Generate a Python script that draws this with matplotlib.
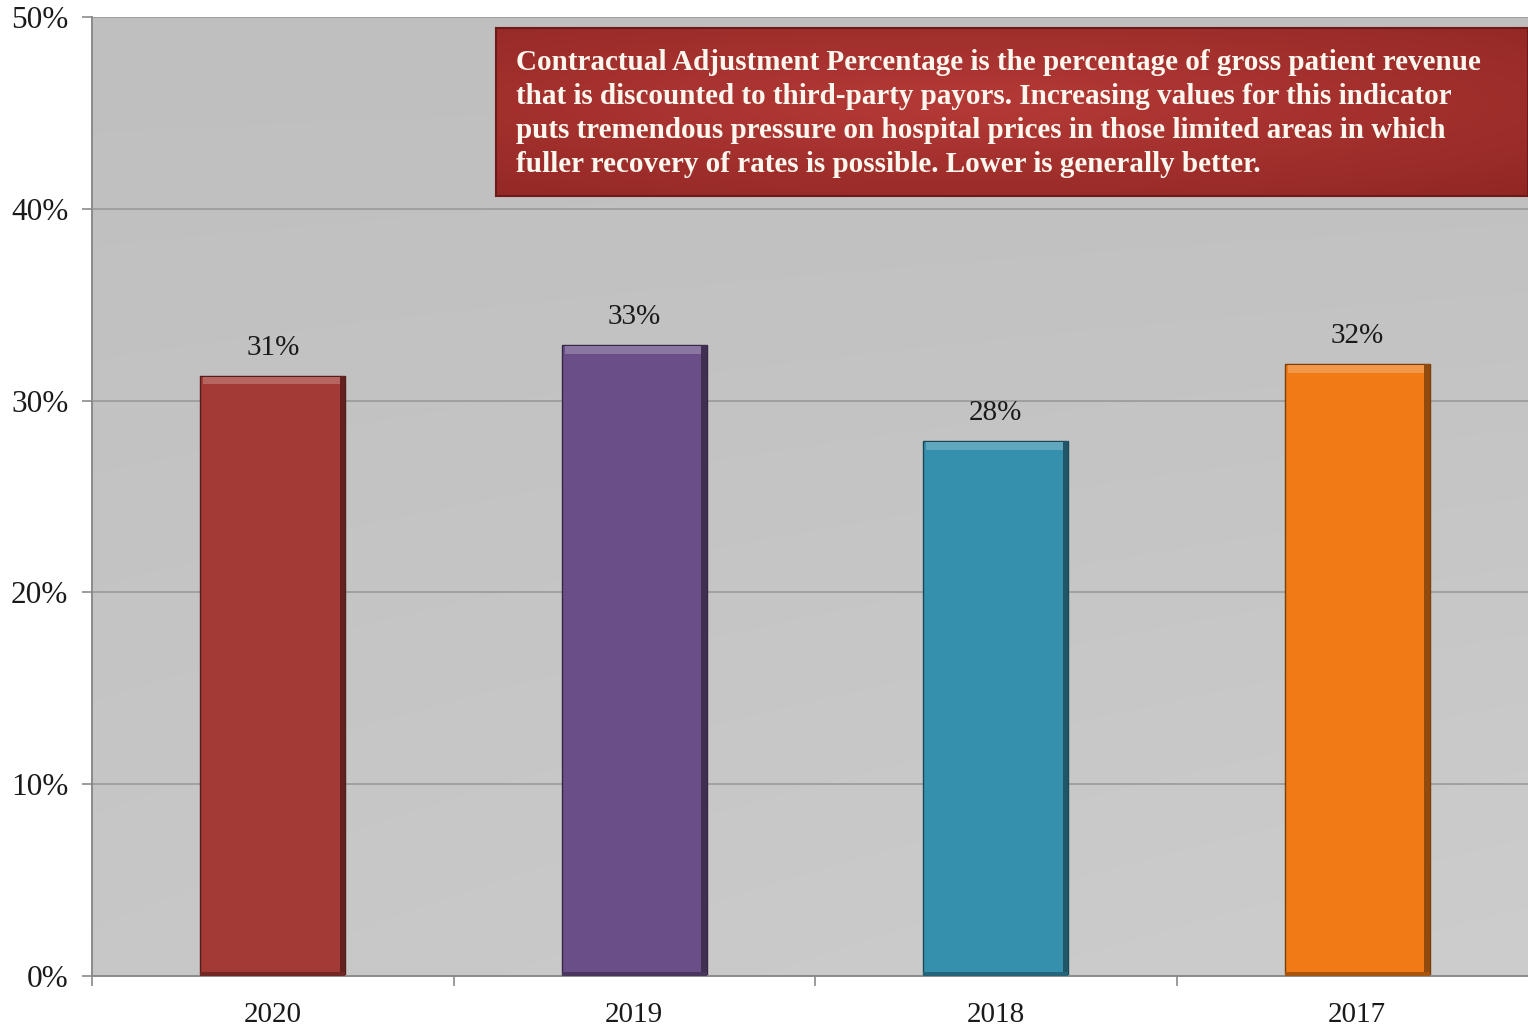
import numpy as np
import matplotlib
matplotlib.use("Agg")
import matplotlib.pyplot as plt
from matplotlib.colors import to_rgb

# Contractual adjustment percentage by fiscal year
years = ["2020", "2019", "2018", "2017"]
values = [31.3, 32.9, 27.9, 31.9]
bar_colors = ["#a33a35", "#6a4e87", "#3590ad", "#f07b16"]
y_ticks = [0, 10, 20, 30, 40, 50]
note = ("Contractual Adjustment Percentage is the percentage of gross patient revenue\n"
        "that is discounted to third-party payors. Increasing values for this indicator\n"
        "puts tremendous pressure on hospital prices in those limited areas in which\n"
        "fuller recovery of rates is possible. Lower is generally better.")

plt.rcParams["font.family"] = ["Liberation Serif", "DejaVu Serif"]

W, H = 1528, 1027
fig = plt.figure(figsize=(W / 100, H / 100), dpi=100)
fig.patch.set_facecolor("white")

ax = fig.add_axes([92 / W, 1 - 976 / H, 1446 / W, 959 / H])
n = len(years)

# soft grey plot-area gradient (darker at the top, lighter toward the bottom right)
yy, xx = np.mgrid[0:1:200j, 0:1:300j]
t = np.clip(0.6 * yy + 0.4 * xx * yy, 0, 1)
top_c = np.array(to_rgb("#bfbfbf"))
bot_c = np.array(to_rgb("#cdcdcd"))
img = top_c[None, None, :] * (1 - t[..., None]) + bot_c[None, None, :] * t[..., None]
ax.imshow(img, extent=(-0.5, n - 0.5, 0, 50), origin="upper", aspect="auto",
          zorder=0, interpolation="bilinear")
ax.set_xlim(-0.5, n - 0.5)
ax.set_ylim(0, 50)

for yv in y_ticks[1:]:
    ax.axhline(yv, color="#9a9a9a", lw=1.2, zorder=1)

x = np.arange(n)
bw = 0.4


def shade(c, f):
    r = np.array(to_rgb(c))
    if f < 0:
        return tuple(r * (1 + f))
    return tuple(r + (1 - r) * f)


for xi, v, c in zip(x, values, bar_colors):
    ax.bar(xi, v, width=bw, color=c, edgecolor=shade(c, -0.5), linewidth=1.0, zorder=2)
    # bevel: lighter top band, darker right side and bottom
    band = 0.4
    ax.bar(xi, band, bottom=v - band - 0.05, width=bw * 0.96, color=shade(c, 0.22), lw=0, zorder=3)
    side = 0.014
    ax.bar(xi + bw / 2 - side / 2, v, width=side, color=shade(c, -0.4), lw=0, zorder=3)
    ax.bar(xi, band * 0.5, width=bw, color=shade(c, -0.3), lw=0, zorder=3)
    ax.annotate(f"{v:.0f}%", (xi, v), xytext=(0, 20), textcoords="offset points",
                ha="center", va="center", fontsize=21, color="#1a1a1a", zorder=4)

# axes styling
for s in ["top", "right"]:
    ax.spines[s].set_visible(False)
for s in ["left", "bottom"]:
    ax.spines[s].set_color("#8a8a8a")
    ax.spines[s].set_linewidth(1.4)

ax.set_yticks(y_ticks)
ax.set_yticklabels([f"{t}%" for t in y_ticks], fontsize=22.5, color="#1a1a1a")
ax.tick_params(axis="y", length=7, width=1.2, color="#8a8a8a", pad=10)

ax.set_xticks(x)
ax.set_xticklabels(years, fontsize=21, color="#1a1a1a")
ax.tick_params(axis="x", which="major", length=0, pad=19)
ax.set_xticks(np.arange(-0.5, n, 1), minor=True)
ax.tick_params(axis="x", which="minor", length=7, width=1.2, color="#8a8a8a")

# explanatory note box
bx = fig.add_axes([496 / W, 1 - 196 / H, (W - 496) / W, 168 / H])
yy, xx = np.mgrid[0:1:120j, 0:1:400j]
r = np.sqrt(((xx - 0.45) / 0.9) ** 2 + ((yy - 0.45) / 0.8) ** 2)
r = np.clip(r, 0, 1)
c_in = np.array(to_rgb("#b53a37"))
c_out = np.array(to_rgb("#8e2522"))
box_img = c_in[None, None, :] * (1 - r[..., None]) + c_out[None, None, :] * r[..., None]
bx.imshow(box_img, extent=(0, 1, 0, 1), aspect="auto", interpolation="bilinear")
bx.set_xlim(0, 1)
bx.set_ylim(0, 1)
bx.set_xticks([])
bx.set_yticks([])
for s in bx.spines.values():
    s.set_color("#6e1a18")
    s.set_linewidth(1.5)
bx.text(20 / (W - 496), 0.49, note, transform=bx.transAxes, ha="left", va="center",
        fontsize=21, fontweight="bold", color="#fbf6ee", linespacing=1.34)

fig.savefig("out.png", dpi=100)
